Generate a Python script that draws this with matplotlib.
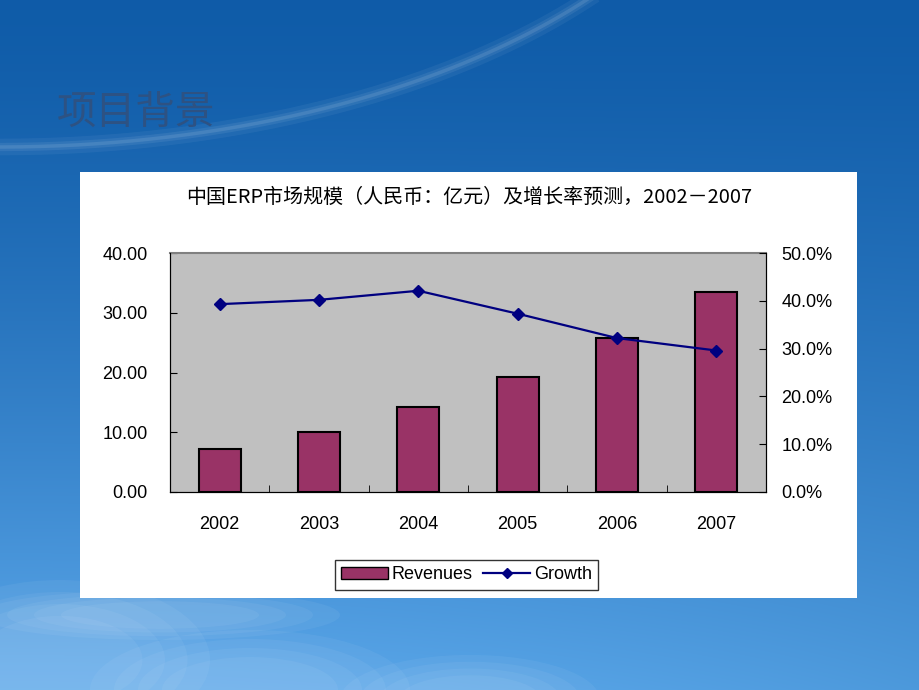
import matplotlib
matplotlib.use('Agg')
import matplotlib.pyplot as plt
from matplotlib.patches import Rectangle, Ellipse
from matplotlib.lines import Line2D
from matplotlib.ticker import FixedLocator
import numpy as np

plt.rcParams['font.family'] = ['Liberation Sans', 'Noto Sans CJK SC', 'DejaVu Sans']

# data
years = ['2002', '2003', '2004', '2005', '2006', '2007']
revenues = [7.2, 10.1, 14.3, 19.3, 25.8, 33.4]
growth = [39.3, 40.2, 42.1, 37.3, 32.2, 29.6]

slide_title = '项目背景'
chart_title = '中国ERP市场规模（人民币：亿元）及增长率预测，2002－2007'


def main():
    fig = plt.figure(figsize=(9.2, 6.9), dpi=100)

    # slide background: blue sky gradient
    bg = fig.add_axes([0, 0, 1, 1], zorder=-10)
    bg.set_axis_off()
    t = np.linspace(0, 1, 690)[:, None]
    s = np.linspace(0, 1, 920)[None, :]
    top = np.array([0.06, 0.36, 0.66])
    bot = np.array([0.36, 0.66, 0.92])
    img = top + (bot - top) * (t ** 1.4)[..., None]
    img = img - 0.06 * (s ** 2)[..., None] * (t ** 2)[..., None]
    bg.imshow(np.clip(img, 0, 1), extent=[0, 920, 690, 0], aspect='auto')
    bg.set_xlim(0, 920)
    bg.set_ylim(690, 0)
    # faint arc sweeping up from the left edge
    th = np.linspace(0.6, np.pi / 2, 200)
    xs = 757 * np.cos(th)
    ys = -253 + 400 * np.sin(th)
    for lw, a in [(12, 0.05), (6, 0.07), (2.5, 0.10)]:
        bg.plot(xs, ys, color='white', alpha=a, lw=lw)
    # soft clouds near the bottom
    for cx, cy, w, h in [(60, 660, 300, 160), (250, 690, 320, 120),
                         (470, 700, 260, 90), (160, 615, 360, 50)]:
        for k in range(4):
            bg.add_patch(Ellipse((cx, cy), w * (1 - 0.15 * k),
                                 h * (1 - 0.15 * k), color='white',
                                 alpha=0.05, lw=0))

    fig.text(57 / 920, (690 - 113) / 690, slide_title, fontsize=28.5,
             color='#2d5283', va='center', ha='left', weight='medium',
             family=['Noto Sans CJK SC'])

    # white chart box
    fig.patches.append(Rectangle((80 / 920, 92 / 690), 777 / 920, 426 / 690,
                                 transform=fig.transFigure, facecolor='white',
                                 edgecolor='none', zorder=-5))

    fig.text(0.510, (690 - 197) / 690, chart_title, fontsize=14.4,
             ha='center', va='center', family=['Noto Sans CJK SC'])

    ax = fig.add_axes([170 / 920, 198 / 690, 596 / 920, 239 / 690])
    ax.set_facecolor('#c0c0c0')
    x = np.arange(len(years))
    ax.bar(x, revenues, width=0.42, color='#993366',
           edgecolor='black', linewidth=1.5, zorder=2)
    ax.set_xlim(-0.5, len(years) - 0.5)
    ax.set_ylim(0, 40)
    ax.set_yticks([0, 10, 20, 30, 40])
    ax.set_yticklabels(['%.2f' % v for v in [0, 10, 20, 30, 40]])
    ax.set_xticks(x)
    ax.set_xticklabels(years)
    ax.xaxis.set_minor_locator(FixedLocator(x[:-1] + 0.5))
    ax.tick_params(axis='x', which='major', length=0, pad=17, labelsize=13)
    ax.tick_params(axis='x', which='minor', direction='in', length=5)
    ax.tick_params(axis='y', direction='in', length=5, pad=16, labelsize=13)
    for side in ['left', 'bottom', 'right']:
        ax.spines[side].set_color('black')
    ax.spines['top'].set_color('#808080')
    ax.spines['top'].set_linewidth(1.5)

    ax2 = ax.twinx()
    ax2.plot(x, growth, color='#000080', lw=1.6, marker='D', markersize=6)
    ax2.set_ylim(0, 50)
    ax2.set_yticks([0, 10, 20, 30, 40, 50])
    ax2.set_yticklabels(['%.1f%%' % v for v in [0, 10, 20, 30, 40, 50]])
    ax2.tick_params(axis='y', direction='in', length=5, pad=11, labelsize=13)
    ax2.spines['top'].set_visible(False)

    handles = [Rectangle((0, 0), 1, 1, facecolor='#993366', edgecolor='black'),
               Line2D([], [], color='#000080', lw=1.6, marker='D', markersize=5)]
    leg = fig.legend(handles, ['Revenues', 'Growth'], loc='center',
                     bbox_to_anchor=(0.507, 0.167), ncol=2, fontsize=13,
                     frameon=True, fancybox=False, handlelength=2.6,
                     handletextpad=0.2, columnspacing=0.6,
                     borderpad=0.35)
    leg.get_frame().set_edgecolor('black')
    leg.get_frame().set_linewidth(1.0)

    fig.savefig('out.png', dpi=100)


if __name__ == '__main__':
    main()
